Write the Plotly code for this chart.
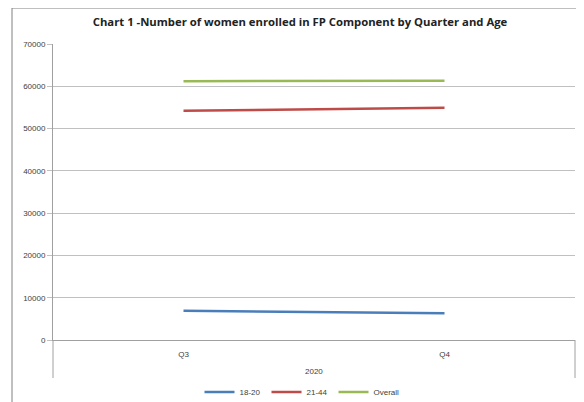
import plotly.graph_objects as go

year_label = "2020"
quarters = ["Q3", "Q4"]
series_names = ["18-20", "21-44", "Overall"]
v_18_20 = [6900, 6300]
v_21_44 = [54200, 54900]
v_overall = [61200, 61300]
colors = ["#4a7ebb", "#be4b48", "#98b954"]

fig = go.Figure()
for name, vals, c in zip(series_names, [v_18_20, v_21_44, v_overall], colors):
    fig.add_trace(go.Scatter(x=quarters, y=vals, name=name, mode="lines",
                             line=dict(color=c, width=2.5)))

# page body has an 8px margin, so figure coords = screen coords - 8
OFF = 8
W, H = 584 - OFF, 402 - OFF
L, T = 53 - OFF, 44 - OFF
R = W - (575 - OFF)
B = H - (340 - OFF)
pw, ph = W - L - R, H - T - B

def px(x):
    return (x - OFF - L) / pw

def py(y):
    return (T + ph - (y - OFF)) / ph

fig.update_layout(
    width=W, height=H,
    margin=dict(l=L, r=R, t=T, b=B, pad=0, autoexpand=False),
    paper_bgcolor="white", plot_bgcolor="white",
    font=dict(family="Liberation Sans, Arial, sans-serif", size=9, color="#404040"),
    title=dict(text="<b>Chart 1 -Number of women enrolled in FP Component by Quarter and Age</b>",
               x=(300 - OFF) / W, xref="container", xanchor="center",
               y=1 - (22 - OFF) / H, yref="container", yanchor="middle",
               font=dict(size=11.3, color="#222222", family="Open Sans, Liberation Sans, sans-serif")),
    showlegend=True,
    legend=dict(orientation="h", x=px(300), xanchor="center", y=py(392),
                yanchor="middle", font=dict(size=8, color="#404040"),
                entrywidth=22, entrywidthmode="pixels", tracegroupgap=0),
    xaxis=dict(type="category", range=[-0.5, 1.5], showgrid=False, showline=True,
               linecolor="#a0a0a0", automargin=False, linewidth=1,
               ticks="", ticklabelstandoff=6, tickfont=dict(size=8, color="#404040")),
    yaxis=dict(range=[0, 70000], dtick=10000, showgrid=True, gridcolor="#c0c0c0", gridwidth=1,
               showline=True, linecolor="#a0a0a0", zeroline=True, zerolinecolor="#a0a0a0",
               automargin=False,
               ticks="outside", ticklen=5, tickcolor="#c0c0c0", tickformat="d",
               tickfont=dict(size=8, color="#404040")),
)

# group label of the category axis
fig.add_annotation(text=year_label, x=0.5, xref="x", y=py(371), yref="paper",
                   showarrow=False, yanchor="middle", font=dict(size=8, color="#404040"))

# group dividers
for xd in (53, 575):
    fig.add_shape(type="line", xref="paper", yref="paper", x0=px(xd), x1=px(xd),
                  y0=py(340), y1=py(378), line=dict(color="#a0a0a0", width=1))

# outer chart border (top and left)
fig.add_shape(type="line", xref="paper", yref="paper", x0=px(12), x1=px(600), y0=py(8), y1=py(8),
              line=dict(color="#808080", width=1))
fig.add_shape(type="line", xref="paper", yref="paper", x0=px(12), x1=px(12), y0=py(8), y1=py(410),
              line=dict(color="#808080", width=1))

fig.write_html("out.html")
